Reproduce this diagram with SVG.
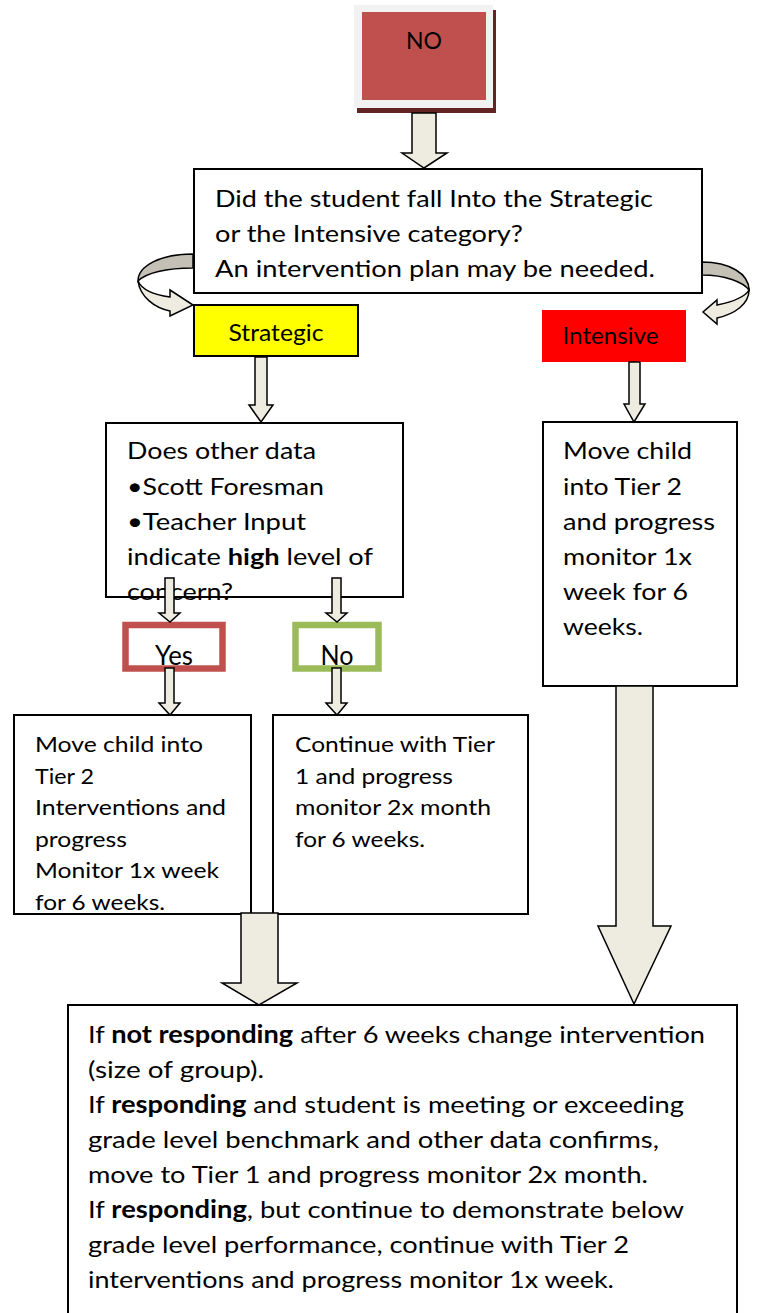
<svg xmlns="http://www.w3.org/2000/svg" width="767" height="1313" viewBox="0 0 767 1313">
<style>
.box{fill:#fff;stroke:#000;stroke-width:2}
.arr{fill:#EEECE1;stroke:#000;stroke-width:1.5;stroke-linejoin:miter}
.dark{fill:#C4C0B6;stroke:#000;stroke-width:1.5}
.t{font-family:Lato,"Liberation Sans",sans-serif;fill:#000}
.b{font-weight:bold}
</style>
<rect width="767" height="1313" fill="#fff"/>

<g id="curves">
  <path class="dark" d="M193,254 C160,254 138,266 138,281 C146,273 166,268 193,268 Z"/>
  <path class="arr" d="M138,281 C140,297 155,308 170,311 L170,316 L193,305 L170,290 L170,297 C155,295 142,290 138,281 Z"/>
  <path class="dark" d="M702,262 C730,262 749,274 749,290 C743,282 725,275 702,275 Z"/>
  <path class="arr" d="M749,290 C749,304 735,314 717,318 L717,324 L703,312 L717,300 L717,305 C732,302 745,297 749,290 Z"/>
</g>

<g id="node-no">
  <rect x="357" y="10" width="139" height="103" fill="#632523"/>
  <rect x="354" y="5" width="139" height="103" fill="#F2F2F2"/>
  <rect x="362" y="12" width="124" height="88" fill="#C0504D"/>
  <text class="t" x="424" y="49" font-size="24" text-anchor="middle" textLength="36" lengthAdjust="spacingAndGlyphs">NO</text>
</g>

<g id="node-question">
  <rect class="box" x="194" y="169" width="508" height="124"/>
  <text class="t" x="215" y="207" font-size="24" textLength="438" lengthAdjust="spacingAndGlyphs">Did the student fall Into the Strategic</text>
  <text class="t" x="215" y="242" font-size="24" textLength="308" lengthAdjust="spacingAndGlyphs">or the Intensive category?</text>
  <text class="t" x="215" y="277" font-size="24" textLength="440" lengthAdjust="spacingAndGlyphs">An intervention plan may be needed.</text>
</g>

<g id="node-strategic">
  <rect x="194" y="305" width="164" height="51" fill="#FFFF00" stroke="#000" stroke-width="2"/>
  <text class="t" x="276" y="341" font-size="23" text-anchor="middle" textLength="95" lengthAdjust="spacingAndGlyphs">Strategic</text>
</g>

<g id="node-intensive">
  <rect x="542" y="310" width="144" height="52" fill="#FF0000"/>
  <text class="t" x="610.5" y="344" font-size="23" text-anchor="middle" textLength="96" lengthAdjust="spacingAndGlyphs">Intensive</text>
</g>

<g id="node-other-data">
  <rect class="box" x="106" y="423" width="297" height="174"/>
  <text class="t" x="127" y="459" font-size="23" textLength="189" lengthAdjust="spacingAndGlyphs">Does other data</text>
  <text class="t" x="127" y="495" font-size="23" textLength="197" lengthAdjust="spacingAndGlyphs">•Scott Foresman</text>
  <text class="t" x="127" y="530" font-size="23" textLength="179" lengthAdjust="spacingAndGlyphs">•Teacher Input</text>
  <text class="t" x="127" y="565" font-size="23" textLength="246" lengthAdjust="spacingAndGlyphs">indicate <tspan class="b">high</tspan> level of</text>
  <text class="t" x="127" y="600" font-size="23" textLength="106" lengthAdjust="spacingAndGlyphs">concern?</text>
</g>

<g id="node-intensive-plan">
  <rect class="box" x="543" y="422" width="194" height="264"/>
  <text class="t" x="563" y="459" font-size="23" textLength="129" lengthAdjust="spacingAndGlyphs">Move child</text>
  <text class="t" x="563" y="495" font-size="23" textLength="119" lengthAdjust="spacingAndGlyphs">into Tier 2</text>
  <text class="t" x="563" y="530" font-size="23" textLength="152" lengthAdjust="spacingAndGlyphs">and progress</text>
  <text class="t" x="563" y="565" font-size="23" textLength="129" lengthAdjust="spacingAndGlyphs">monitor 1x</text>
  <text class="t" x="563" y="600" font-size="23" textLength="125" lengthAdjust="spacingAndGlyphs">week for 6</text>
  <text class="t" x="563" y="635" font-size="23" textLength="80" lengthAdjust="spacingAndGlyphs">weeks.</text>
</g>

<g id="node-yes">
  <rect x="125.5" y="625" width="97" height="43.5" fill="#fff" stroke="#C0504D" stroke-width="6.5"/>
  <text class="t" x="174" y="665" font-size="26" text-anchor="middle" textLength="38" lengthAdjust="spacingAndGlyphs">Yes</text>
</g>

<g id="node-no-answer">
  <rect x="295.5" y="625" width="83" height="43.5" fill="#fff" stroke="#9BBB59" stroke-width="6.5"/>
  <text class="t" x="337" y="665" font-size="26" text-anchor="middle" textLength="33" lengthAdjust="spacingAndGlyphs">No</text>
</g>

<g id="node-yes-plan">
  <rect class="box" x="14" y="715" width="237" height="199"/>
  <text class="t" x="35" y="752" font-size="21.5" textLength="168" lengthAdjust="spacingAndGlyphs">Move child into</text>
  <text class="t" x="35" y="784" font-size="21.5" textLength="59" lengthAdjust="spacingAndGlyphs">Tier 2</text>
  <text class="t" x="35" y="815" font-size="21.5" textLength="191" lengthAdjust="spacingAndGlyphs">Interventions and</text>
  <text class="t" x="35" y="847" font-size="21.5" textLength="92" lengthAdjust="spacingAndGlyphs">progress</text>
  <text class="t" x="35" y="878" font-size="21.5" textLength="184" lengthAdjust="spacingAndGlyphs">Monitor 1x week</text>
  <text class="t" x="35" y="910" font-size="21.5" textLength="130" lengthAdjust="spacingAndGlyphs">for 6 weeks.</text>
</g>

<g id="node-no-plan">
  <rect class="box" x="273" y="715" width="255" height="199"/>
  <text class="t" x="295" y="752" font-size="21.5" textLength="200" lengthAdjust="spacingAndGlyphs">Continue with Tier</text>
  <text class="t" x="295" y="784" font-size="21.5" textLength="158" lengthAdjust="spacingAndGlyphs">1 and progress</text>
  <text class="t" x="295" y="815" font-size="21.5" textLength="196" lengthAdjust="spacingAndGlyphs">monitor 2x month</text>
  <text class="t" x="295" y="847" font-size="21.5" textLength="130" lengthAdjust="spacingAndGlyphs">for 6 weeks.</text>
</g>

<g id="node-outcome">
  <rect class="box" x="68" y="1005" width="669" height="320"/>
  <text class="t" x="88" y="1043" font-size="24" textLength="617" lengthAdjust="spacingAndGlyphs">If <tspan class="b">not responding</tspan> after 6 weeks change intervention</text>
  <text class="t" x="88" y="1078" font-size="24" textLength="176" lengthAdjust="spacingAndGlyphs">(size of group).</text>
  <text class="t" x="88" y="1113" font-size="24" textLength="596" lengthAdjust="spacingAndGlyphs">If <tspan class="b">responding</tspan> and student is meeting or exceeding</text>
  <text class="t" x="88" y="1148" font-size="24" textLength="571" lengthAdjust="spacingAndGlyphs">grade level benchmark and other data confirms,</text>
  <text class="t" x="88" y="1183" font-size="24" textLength="560" lengthAdjust="spacingAndGlyphs">move to Tier 1 and progress monitor 2x month.</text>
  <text class="t" x="88" y="1218" font-size="24" textLength="596" lengthAdjust="spacingAndGlyphs">If <tspan class="b">responding</tspan>, but continue to demonstrate below</text>
  <text class="t" x="88" y="1253" font-size="24" textLength="541" lengthAdjust="spacingAndGlyphs">grade level performance, continue with Tier 2</text>
  <text class="t" x="88" y="1288" font-size="24" textLength="526" lengthAdjust="spacingAndGlyphs">interventions and progress monitor 1x week.</text>
</g>

<g id="connectors">
  <polygon class="arr" points="412,113 436,113 436,153 447,153 424,168 402,153 412,153"/>
  <polygon class="arr" points="255,357 267,357 267,405 273,405 261,422 249,405 255,405"/>
  <polygon class="arr" points="629,362 640,362 640,404 645,404 634,422 624,404 629,404"/>
  <polygon class="arr" points="165,578 174,578 174,613 180,613 170,622 159,613 165,613"/>
  <polygon class="arr" points="332,578 341,578 341,613 347,613 337,622 326,613 332,613"/>
  <polygon class="arr" points="165,668 174,668 174,703 180,703 170,715 159,703 165,703"/>
  <polygon class="arr" points="332,668 341,668 341,703 347,703 337,715 326,703 332,703"/>
  <polygon class="arr" points="241,913 278,913 278,983 297,983 259,1005 222,983 241,983"/>
  <polygon class="arr" points="616,686 653,686 653,926 671,926 634,1004 598,926 616,926"/>
</g>
</svg>
